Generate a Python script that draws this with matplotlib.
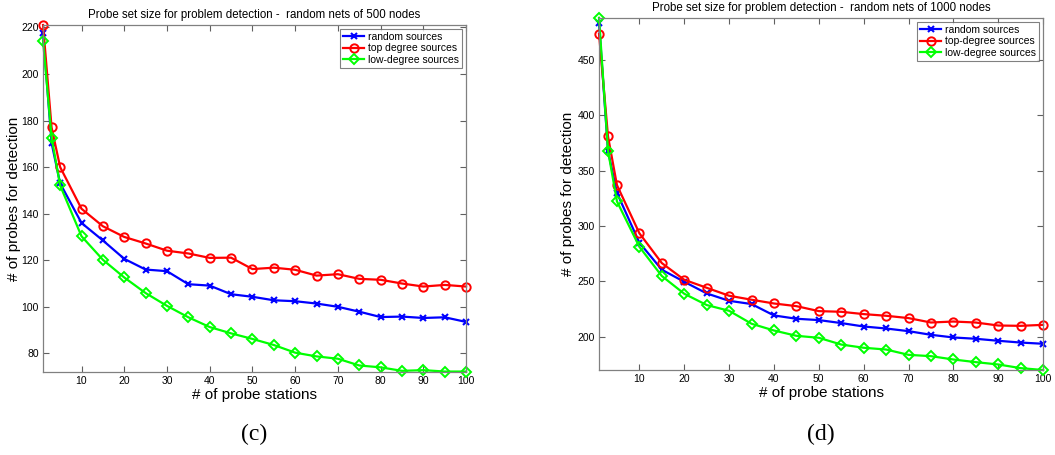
"""Probe set size for problem detection, random nets of 500 and 1000 nodes."""

import matplotlib.pyplot as plt

stations = [1, 3, 5, 10, 15, 20, 25, 30, 35, 40, 45, 50, 55, 60, 65, 70, 75, 80, 85, 90, 95, 100]

# (c) 500 nodes
random_500 = [217.4, 170.3, 153.0, 136.0, 128.5, 120.6, 116.0, 115.3, 109.7, 109.1, 105.4,
              104.3, 102.8, 102.4, 101.4, 100.0, 97.9, 95.6, 95.8, 95.2, 95.5, 93.5]
top_500 = [221.0, 177.0, 160.0, 142.1, 134.6, 130.0, 127.2, 124.1, 122.9, 121.0, 121.1,
           116.2, 116.8, 115.9, 113.4, 114.0, 112.0, 111.6, 110.0, 108.7, 109.4, 108.7]
low_500 = [214.3, 172.7, 152.1, 130.3, 120.2, 112.6, 105.9, 100.4, 95.5, 91.3, 88.6,
           86.2, 83.6, 80.3, 78.7, 77.7, 74.8, 74.0, 72.5, 72.8, 72.2, 72.2]

# (d) 1000 nodes
random_1000 = [483.6, 368.0, 330.0, 285.0, 260.6, 249.7, 239.2, 232.5, 229.6, 219.3, 216.3,
               215.1, 212.4, 209.3, 207.5, 205.1, 201.8, 199.4, 198.2, 196.4, 194.8, 193.7]
top_1000 = [473.7, 381.1, 337.0, 293.5, 266.6, 251.5, 244.3, 237.1, 233.5, 230.1, 227.7,
            223.2, 222.6, 220.5, 219.0, 216.9, 212.9, 213.8, 212.9, 210.2, 209.9, 210.8]
low_1000 = [488.2, 368.2, 322.3, 281.3, 254.9, 238.9, 228.7, 223.5, 211.8, 205.7, 200.9,
            199.1, 193.0, 190.1, 188.5, 183.7, 182.5, 179.5, 177.1, 175.0, 171.7, 170.0]

plt.rcParams['font.family'] = ['Liberation Sans', 'DejaVu Sans']

fig = plt.figure(figsize=(10.55, 4.55), dpi=100)
ax_c = fig.add_axes([0.0408, 0.1824, 0.401, 0.7626])
ax_d = fig.add_axes([0.5678, 0.1868, 0.4209, 0.7736])

panels = [
    (ax_c, random_500, top_500, low_500, 'top degree sources', 500, (72, 221), range(80, 221, 20), '(c)', 0.5),
    (ax_d, random_1000, top_1000, low_1000, 'top-degree sources', 1000, (170, 488), range(200, 451, 50), '(d)', 2),
]

for ax, rnd, top, low, top_label, n, ylim, yticks, tag, lpad in panels:
    # MATLAB-style: markers on the axes edge are not clipped
    ax.plot(stations, rnd, color='#0000ff', lw=1.6, marker='x', ms=4.5, mew=1.5,
            clip_on=False, label='random sources')
    ax.plot(stations, top, color='#ff0000', lw=1.6, marker='o', ms=6, mew=1.4, mfc='none',
            clip_on=False, label=top_label)
    ax.plot(stations, low, color='#00ff00', lw=1.6, marker='D', ms=5, mew=1.4, mfc='none',
            clip_on=False, label='low-degree sources')
    ax.set_xlim(1, 100)
    ax.set_ylim(*ylim)
    ax.set_xticks(range(10, 101, 10))
    ax.set_yticks(list(yticks))
    ax.tick_params(direction='in', top=True, right=True, labelsize=7.5, length=4,
                   color='#606060', width=0.8, pad=3)
    for sp in ax.spines.values():
        sp.set_color('#808080')
        sp.set_linewidth(0.9)
    ax.set_title(f'Probe set size for problem detection -  random nets of {n} nodes',
                 fontsize=8.3, pad=5)
    ax.set_xlabel('# of probe stations', fontsize=11, labelpad=1)
    ax.set_ylabel('# of probes for detection', fontsize=11, labelpad=lpad)
    leg = ax.legend(loc='upper right', fontsize=7.5, frameon=True, fancybox=False,
                    borderpad=0.3, labelspacing=0.15, handlelength=2.0, handletextpad=0.4,
                    borderaxespad=0.35)
    leg.get_frame().set_edgecolor('#606060')
    leg.get_frame().set_linewidth(0.8)
    bb = ax.get_position()
    fig.text((bb.x0 + bb.x1) / 2, 0.045, tag, ha='center', va='center',
             fontsize=17, family='Liberation Serif')

fig.savefig('out.png', dpi=100)
